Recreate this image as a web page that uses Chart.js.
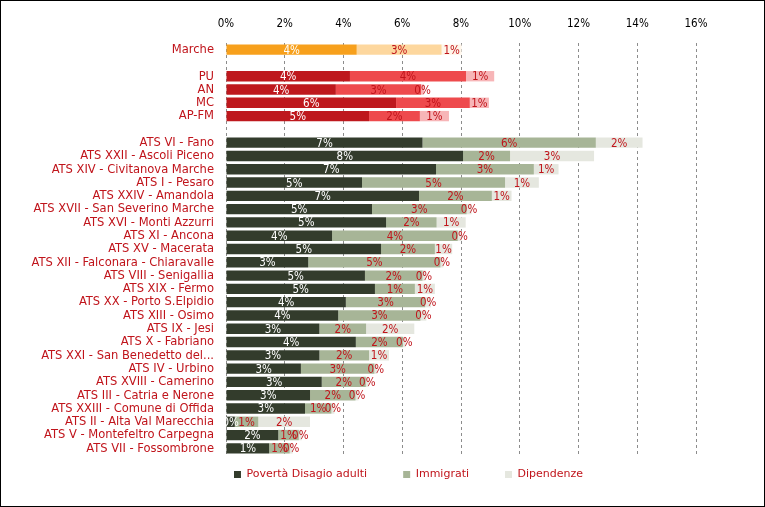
<!DOCTYPE html>
<html>
<head>
<meta charset="utf-8">
<script src="https://cdn.jsdelivr.net/npm/chart.js@4.4.0/dist/chart.umd.min.js"></script>
<style>
  html, body { margin: 0; padding: 0; background: #fff; }
  #frame { width: 763px; height: 505px; border: 1px solid #000; }
  canvas { display: block; }
</style>
</head>
<body>
<div id="frame"><canvas id="chart" width="763" height="505"></canvas></div>
<script>
// rows top to bottom, '' = empty spacer row
const categories = [
  'Marche', '',
  'PU', 'AN', 'MC', 'AP-FM', '',
  'ATS VI - Fano', 'ATS XXII - Ascoli Piceno', 'ATS XIV - Civitanova Marche', 'ATS I - Pesaro',
  'ATS XXIV - Amandola', 'ATS XVII - San Severino Marche', 'ATS XVI - Monti Azzurri',
  'ATS XI - Ancona', 'ATS XV - Macerata', 'ATS XII - Falconara - Chiaravalle',
  'ATS VIII - Senigallia', 'ATS XIX - Fermo', 'ATS XX - Porto S.Elpidio', 'ATS XIII - Osimo',
  'ATS IX - Jesi', 'ATS X - Fabriano', 'ATS XXI - San Benedetto del...', 'ATS IV - Urbino',
  'ATS XVIII - Camerino', 'ATS III - Catria e Nerone', 'ATS XXIII - Comune di Offida',
  'ATS II - Alta Val Marecchia', 'ATS V - Montefeltro Carpegna', 'ATS VII - Fossombrone'
];
// which colour family each row uses
const rowGroup = ['reg', '', 'prov', 'prov', 'prov', 'prov', ''].concat(Array(24).fill('ats'));

const seriesNames = ['Povertà Disagio adulti', 'Immigrati', 'Dipendenze'];

const poverta = [4.45, null, 4.22, 3.74, 5.79, 4.87, null,
  6.69, 8.07, 7.15, 4.63, 6.57, 4.97, 5.45, 3.61, 5.28, 2.8, 4.73, 5.07, 4.08, 3.82,
  3.18, 4.42, 3.18, 2.55, 3.26, 2.86, 2.69, 0.3, 1.78, 1.47];
const immigrati = [2.89, null, 3.95, 2.9, 2.51, 1.73, null,
  5.9, 1.6, 3.33, 4.87, 2.48, 3.22, 1.72, 4.28, 1.83, 4.5, 1.96, 1.36, 2.7, 2.8,
  1.59, 1.6, 1.69, 2.5, 1.5, 1.55, 0.9, 0.8, 0.7, 0.7];
const dipendenze = [0.68, null, 0.96, 0.1, 0.65, 0.99, null,
  1.59, 2.86, 0.84, 1.15, 0.67, 0.17, 0.99, 0.13, 0.59, 0.1, 0.1, 0.68, 0.2, 0.2,
  1.64, 0.1, 0.68, 0.1, 0.1, 0.1, 0.1, 1.76, 0.1, 0.1];

const xMin = 0;
const xMax = 16;
const xStep = 2;

const palette = {
  reg:  ['#F7A01C', '#FDD79E', '#FFF6EA'],
  prov: ['#BE181D', '#EE4A4D', '#F7B5B7'],
  ats:  ['#333C2C', '#A7B597', '#E5E7DF'],
  '':   ['#fff', '#fff', '#fff'],
};
const legendColors = palette.ats;
const redText = '#C0141B';
const FONT = '"DejaVu Sans", sans-serif';
const FONT_COND = '"DejaVu Sans Condensed", "DejaVu Sans", sans-serif';

function colorsFor(seriesIdx) {
  return rowGroup.map((g) => palette[g][seriesIdx]);
}

// writes the rounded % inside each segment
const barLabels = {
  id: 'barLabels',
  afterDatasetsDraw(chart) {
    const ctx = chart.ctx;
    ctx.save();
    ctx.font = '11.5px ' + FONT_COND;
    ctx.textAlign = 'center';
    ctx.textBaseline = 'middle';
    chart.data.datasets.forEach((ds, di) => {
      chart.getDatasetMeta(di).data.forEach((bar, i) => {
        const v = ds.data[i];
        if (v == null) return;
        ctx.fillStyle = di === 0 ? '#fff' : redText;
        ctx.fillText(Math.round(v) + '%', (bar.x + bar.base) / 2, bar.y + 1);
      });
    });
    ctx.restore();
  }
};

// nudge the legend to where the original sits
const legendShift = {
  id: 'legendShift',
  afterLayout(chart) {
    const lg = chart.legend;
    if (!lg) return;
    lg.top -= 22; lg.bottom -= 22;
    lg.left += 60; lg.right += 60;
  }
};

const datasets = [poverta, immigrati, dipendenze].map((data, i) => ({
  label: seriesNames[i],
  data,
  backgroundColor: colorsFor(i),
  borderWidth: 0,
  barPercentage: 0.78,
  categoryPercentage: 1,
}));

new Chart(document.getElementById('chart'), {
  type: 'bar',
  data: { labels: categories, datasets },
  options: {
    indexAxis: 'y',
    responsive: false,
    animation: false,
    layout: { padding: { top: 0, right: 68, bottom: 0, left: 0 } },
    scales: {
      x: {
        position: 'top',
        stacked: true,
        min: xMin,
        max: xMax,
        ticks: {
          stepSize: xStep,
          padding: 12,
          color: '#000',
          font: { family: FONT_COND, size: 11.5 },
          callback: (v) => v + '%',
        },
        grid: { color: '#8c8c8c', drawTicks: false },
        border: { display: false, dash: [3, 3] },
        afterFit: (scale) => { scale.height = 42; },
      },
      y: {
        stacked: true,
        ticks: {
          padding: 12,
          color: redText,
          font: { family: FONT_COND, size: 12.8 },
          autoSkip: false,
        },
        grid: { display: false, drawTicks: false },
        border: { display: false },
        afterFit: (scale) => { scale.width = 225; },
      },
    },
    plugins: {
      tooltip: { enabled: false },
      legend: {
        position: 'bottom',
        maxHeight: 51,
        labels: {
          boxWidth: 7,
          boxHeight: 7,
          padding: 36,
          color: redText,
          font: { family: FONT, size: 11 },
          generateLabels: () => seriesNames.map((name, i) => ({
            text: name,
            fillStyle: legendColors[i],
            strokeStyle: legendColors[i],
            lineWidth: 0,
            fontColor: redText,
            datasetIndex: i,
          })),
        },
      },
    },
  },
  plugins: [barLabels, legendShift],
});
</script>
</body>
</html>
